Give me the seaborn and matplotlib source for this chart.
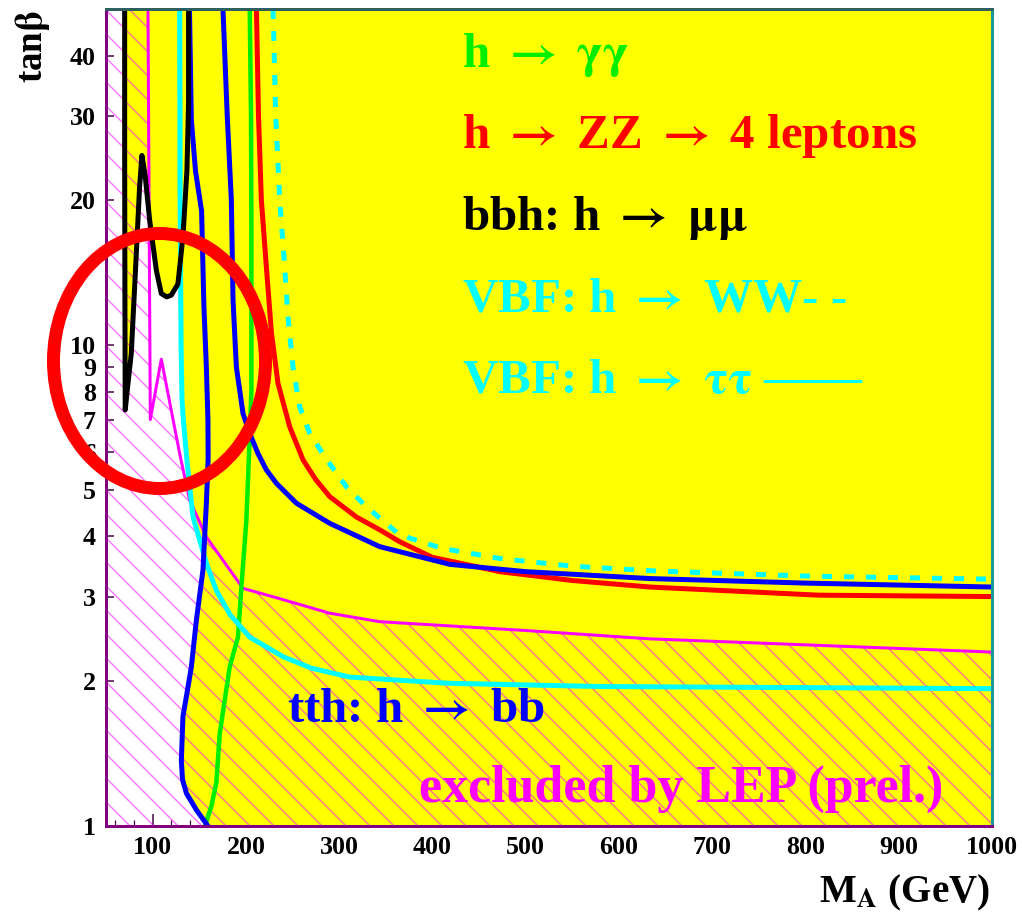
import matplotlib
matplotlib.use("Agg")
import numpy as np
import matplotlib.pyplot as plt
import seaborn as sns
from matplotlib.patches import Ellipse
from matplotlib.ticker import FixedLocator, MultipleLocator, NullLocator

# ---------------- data ----------------
# bbh: h -> mumu (black)
bbh_ma = [70.0, 70.0, 70.3, 70.6, 73.5, 77.1, 82.5, 86.0, 88.5, 92.0, 96.8, 104.0, 109.3, 115.0, 120.0, 127.1, 132.5, 136.8, 138.5, 138.5]
bbh_tb = [50.0, 25.0, 12.0, 7.33, 8.3, 9.6, 15.5, 21.3, 24.8, 22.5, 18.2, 14.3, 12.8, 12.6, 12.7, 13.4, 16.8, 23.1, 32.0, 50.0]

# VBF: h -> tautau (cyan solid)
vbftt_ma = [129.0, 129.5, 130.5, 131.5, 133.0, 137.0, 143.3, 151.0, 158.0, 168.3, 183.0, 204.1, 239.8, 270.0, 311.4, 418.7, 581.0, 800.0, 1000.0]
vbftt_tb = [50.0, 20.0, 10.0, 7.7, 6.96, 5.7, 4.39, 3.9, 3.5, 3.09, 2.75, 2.47, 2.25, 2.13, 2.04, 1.98, 1.95, 1.94, 1.93]

# tth: h -> bb (blue), low-MA branch
tthL_ma = [139.5, 141.5, 146.0, 152.5, 155.0, 157.6, 159.3, 159.5, 157.6, 154.0, 146.9, 141.5, 136.0, 132.5, 130.8, 132.0, 136.2, 146.9, 159.3]
tthL_tb = [50.0, 29.4, 23.0, 19.0, 12.0, 9.0, 7.0, 5.8, 4.69, 3.41, 2.68, 2.14, 1.85, 1.69, 1.37, 1.25, 1.17, 1.08, 1.0]

# tth: h -> bb (blue), upper branch
tthU_ma = [175.4, 180.0, 184.4, 186.2, 189.8, 196.9, 204.1, 213.0, 222.0, 232.7, 254.2, 289.9, 343.5, 418.7, 500.0, 633.3, 800.0, 1000.0]
tthU_tb = [50.0, 30.0, 20.0, 12.4, 9.0, 7.21, 6.55, 5.95, 5.5, 5.16, 4.69, 4.26, 3.81, 3.50, 3.38, 3.27, 3.20, 3.14]

# h -> ZZ -> 4 leptons (red)
zz_ma = [211.3, 213.5, 216.6, 222.0, 227.4, 234.4, 247.0, 261.3, 275.0, 289.9, 318.6, 343.5, 365.0, 400.0, 472.3, 550.0, 633.3, 814.5, 1000.0]
zz_tb = [50.0, 30.0, 20.0, 14.5, 10.6, 8.33, 6.76, 5.77, 5.25, 4.84, 4.39, 4.13, 3.90, 3.62, 3.38, 3.24, 3.14, 3.02, 3.00]

# VBF: h -> WW (cyan dashed)
ww_ma = [229.1, 232.0, 236.3, 241.6, 245.2, 250.5, 257.7, 268.5, 284.5, 307.8, 329.3, 365.0, 410.0, 472.3, 550.0, 640.6, 800.0, 1000.0]
ww_tb = [50.0, 30.0, 20.0, 14.5, 11.4, 9.0, 7.44, 6.55, 5.86, 5.07, 4.61, 4.03, 3.78, 3.60, 3.47, 3.39, 3.31, 3.26]

# h -> gamma gamma (green)
gg_ma = [204.1, 205.5, 205.9, 205.9, 204.1, 200.5, 195.2, 191.5, 182.6, 172.0, 168.3, 163.0, 156.0]
gg_tb = [50.0, 30.0, 17.1, 8.0, 6.45, 4.32, 3.14, 2.47, 2.14, 1.56, 1.23, 1.10, 1.0]

# LEP exclusion boundary (magenta)
lep_ma = [95.0, 97.5, 109.3, 129.0, 139.7, 157.6, 196.9, 236.3, 289.9, 343.5, 500.0, 633.3, 1000.0]
lep_tb = [50.0, 7.0, 9.35, 5.95, 4.76, 3.99, 3.12, 2.97, 2.77, 2.66, 2.55, 2.45, 2.30]

x_ticks = [100, 200, 300, 400, 500, 600, 700, 800, 900, 1000]
y_ticks = [1, 2, 3, 4, 5, 6, 7, 8, 9, 10, 20, 30, 40]
y_tick_labels = [str(v) for v in y_ticks]
x_lim = (50, 1000)
y_lim = (1, 50)

labels = [
    ("h $\\rightarrow$ $\\mathrm{\\gamma\\gamma}$", "#00ee00"),
    ("h $\\rightarrow$ ZZ $\\rightarrow$ 4 leptons", "#ff0000"),
    ("bbh: h $\\rightarrow$ $\\mathrm{\\mu\\mu}$", "#000000"),
    ("VBF: h $\\rightarrow$ WW- -", "#00ffff"),
    ("VBF: h $\\rightarrow$ $\\mathrm{\\tau\\tau}$ \u2014\u2014", "#00ffff"),
]

# ---------------- style ----------------
sns.set_theme(style="white")
plt.rcParams['font.family'] = ['Liberation Serif', 'DejaVu Serif']
plt.rcParams['font.weight'] = 'bold'
plt.rcParams['mathtext.fontset'] = 'stix'
plt.rcParams['hatch.linewidth'] = 1.4

DPI = 72
W, H = 1022, 913
fig = plt.figure(figsize=(W / DPI, H / DPI), dpi=DPI)
fig.patch.set_facecolor('white')
ax = fig.add_axes([106 / W, (H - 826) / H, (992 - 106) / W, (826 - 9) / H])
ax.set_facecolor('white')
ax.set_yscale('log')
ax.set_xlim(*x_lim)
ax.set_ylim(*y_lim)

YEL = '#ffff00'
xr, yt, yb = x_lim[1], y_lim[1], y_lim[0]

# discovery regions (union shown in yellow)
ax.fill(bbh_ma, bbh_tb, facecolor=YEL, edgecolor='none', zorder=1)
ax.fill(vbftt_ma + [xr], vbftt_tb + [yt], facecolor=YEL, edgecolor='none', zorder=1)
ax.fill(tthL_ma + [xr, xr], tthL_tb + [yb, yt], facecolor=YEL, edgecolor='none', zorder=1)
ax.fill(gg_ma + [xr, xr], gg_tb + [yb, yt], facecolor=YEL, edgecolor='none', zorder=1)

# LEP exclusion hatch
ax.fill(lep_ma + [xr, x_lim[0], x_lim[0]], lep_tb + [yb, yb, yt],
        facecolor='none', edgecolor=(1, 0, 1, 0.55), hatch='\\', linewidth=0, zorder=2)

# curves
common = dict(sort=False, estimator=None, ax=ax, legend=False)
sns.lineplot(x=lep_ma, y=lep_tb, color='#ff00ff', linewidth=3, zorder=3, **common)
sns.lineplot(x=gg_ma, y=gg_tb, color='#00ee00', linewidth=4.5, zorder=3, **common)
sns.lineplot(x=vbftt_ma, y=vbftt_tb, color='#00ffff', linewidth=5, zorder=3, **common)
sns.lineplot(x=ww_ma, y=ww_tb, color='#00ffff', linewidth=5, linestyle=(0, (2, 2.4)), zorder=3, **common)
sns.lineplot(x=zz_ma, y=zz_tb, color='#ff0000', linewidth=5, zorder=3, **common)
sns.lineplot(x=tthU_ma, y=tthU_tb, color='#0000ff', linewidth=5, zorder=3.2, **common)
sns.lineplot(x=tthL_ma, y=tthL_tb, color='#0000ff', linewidth=5, zorder=3.2, **common)
sns.lineplot(x=bbh_ma, y=bbh_tb, color='#000000', linewidth=5, zorder=3.3, **common)

# axes / ticks
ax.xaxis.set_major_locator(FixedLocator(x_ticks))
ax.xaxis.set_minor_locator(MultipleLocator(20))
ax.set_xticklabels([str(v) for v in x_ticks])
ax.yaxis.set_major_locator(FixedLocator(y_ticks))
ax.yaxis.set_minor_locator(NullLocator())
ax.set_yticklabels(y_tick_labels)
tick_col = '#400040'
ax.tick_params(axis='x', which='major', direction='in', length=12, width=1.5, color=tick_col,
               labelsize=26, pad=10, labelcolor='black', bottom=True, top=False)
ax.tick_params(axis='x', which='minor', direction='in', length=6, width=1.2, color=tick_col, bottom=True, top=False)
ax.tick_params(axis='y', which='major', direction='in', length=8, width=1.5, color=tick_col,
               labelsize=26, pad=10, labelcolor='black', left=True, right=False)
ax.set_xlabel('')
ax.set_ylabel('')
for side, col in [('left', '#800080'), ('bottom', '#800080'), ('top', '#2f5f5f'), ('right', '#1a9a9a')]:
    ax.spines[side].set_visible(True)
    ax.spines[side].set_color(col)
    ax.spines[side].set_linewidth(3)
    ax.spines[side].set_zorder(5)

# texts (figure pixel positions, converted to inches)
def px(xp, yp):
    return xp / DPI, (H - yp) / DPI

baselines = [67, 148, 230, 312, 393]
for (txt, col), yb_ in zip(labels, baselines):
    fig.text(*px(462, yb_), txt, color=col, fontsize=49, fontweight='bold',
             ha='left', va='baseline', transform=fig.dpi_scale_trans, zorder=8)
fig.text(*px(287, 722), "tth: h $\\rightarrow$ bb", color='#0000ff', fontsize=49, fontweight='bold',
         ha='left', va='baseline', transform=fig.dpi_scale_trans, zorder=8)
fig.text(*px(419, 802), "excluded by LEP (prel.)", color='#ff00ff', fontsize=52, fontweight='bold',
         ha='left', va='baseline', transform=fig.dpi_scale_trans, zorder=8)

fig.text(*px(32, 47), "tan$\\mathrm{\\beta}$", color='black', fontsize=37, fontweight='bold',
         rotation=90, ha='center', va='center', transform=fig.dpi_scale_trans)
fig.text(*px(990, 902), "M$_{\\mathbf{A}}$ (GeV)", color='black', fontsize=39, fontweight='bold',
         ha='right', va='baseline', transform=fig.dpi_scale_trans)

# red ellipse annotation
ell = Ellipse(px(159.5, 361), 212 / DPI, 255 / DPI, transform=fig.dpi_scale_trans,
              fill=False, edgecolor='#ff0000', linewidth=13, zorder=20, clip_on=False)
fig.add_artist(ell)

fig.savefig('out.png', dpi=DPI, facecolor='white')
